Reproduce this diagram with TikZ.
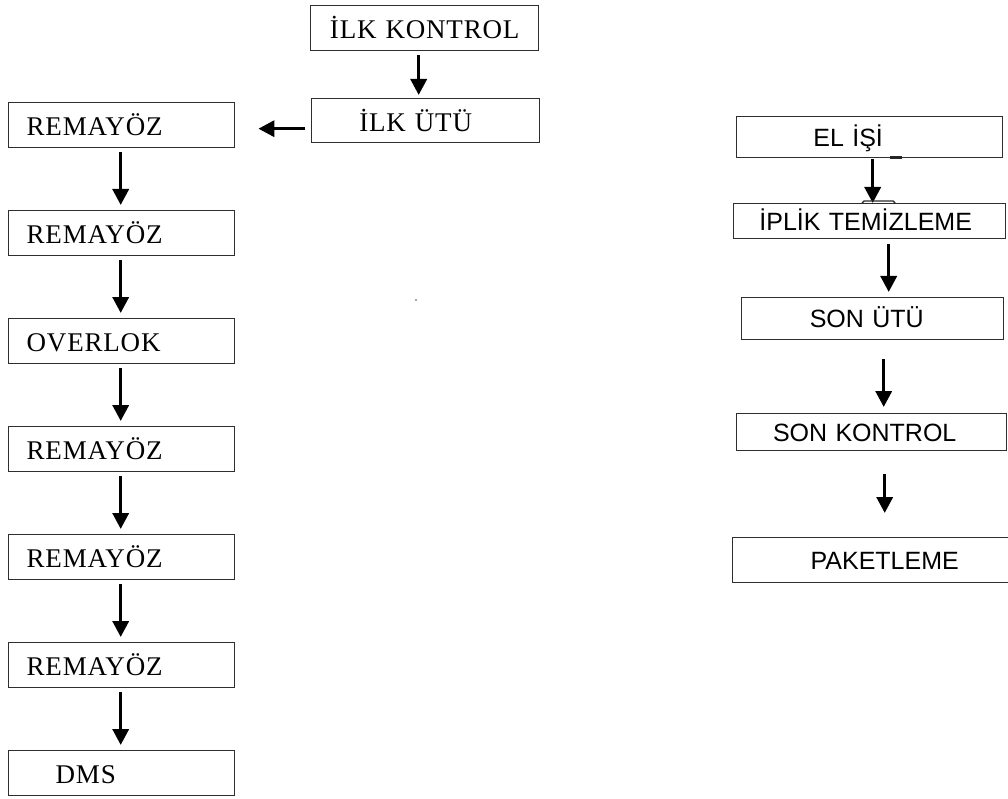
\documentclass[tikz,border=0pt]{standalone}
\usepackage{fontspec}
\setmainfont{Liberation Serif}
\newfontfamily\boxserif[LetterSpace=3]{Liberation Serif}
\newfontfamily\boxsans{Liberation Sans}
\usetikzlibrary{arrows.meta,calc}
\begin{document}
\begin{tikzpicture}[x=1pt,y=-1pt,
  box/.style={draw=black!82, line width=1.4pt, rectangle, inner xsep=0pt, inner ysep=0pt, anchor=north west},
  sbox/.style={box, font=\boxserif\fontsize{27}{30}\selectfont, text height=21pt, text depth=0pt},
  lbox/.style={sbox, align=left, inner xsep=18pt, text width=190pt, minimum height=45pt},
  cbox/.style={sbox, align=center},
  abox/.style={box, font=\boxsans\fontsize{25}{28}\selectfont, align=center, text height=18pt, text depth=0pt},
  arr/.style={line width=3.5pt, -{Triangle[width=16pt,length=16pt]}},
  artifact/.style={draw=black!82, line width=1.4pt},
]
\fill[white] (0,0) rectangle (1008,799);
\useasboundingbox (0,0) rectangle (1008,799);

% top boxes
\node[cbox, text width=228pt, minimum height=45pt] (k1) at (310,5) {İLK KONTROL};
\node[cbox, text width=228pt, minimum height=44pt] (u1) at (311,98) {\hspace*{-20pt}İLK ÜTÜ};

% left column
\node[lbox] (r1) at (8,102) {REMAYÖZ};
\node[lbox] (r2) at (8,210) {REMAYÖZ};
\node[lbox] (ov) at (8,318) {OVERLOK};
\node[lbox] (r3) at (8,426) {REMAYÖZ};
\node[lbox] (r4) at (8,534) {REMAYÖZ};
\node[lbox] (r5) at (8,642) {REMAYÖZ};
\node[lbox] (dm) at (8,750) {\hspace*{29pt}DMS};

% right column
\node[abox, text width=266pt, minimum height=41pt] (el) at (736,116) {\hspace*{-43pt}EL İŞİ};
\node[abox, text width=272pt, minimum height=35pt] (ip) at (733,203) {\hspace*{-8pt}İPLİK TEMİZLEME};
\node[abox, text width=262pt, minimum height=42pt] (su) at (741,297) {\hspace*{-12pt}SON ÜTÜ};
\node[abox, text width=270pt, minimum height=37pt] (sk) at (736,413) {\hspace*{-14pt}SON KONTROL};
\node[abox, text width=280pt, minimum height=45pt] (pk) at (732,537) {\hspace*{24pt}PAKETLEME};

% arrows: top
\draw[arr] ($(k1.south)+(-6,4)$) -- ($(k1.south |- u1.north)+(-6,-3)$);
\draw[arr] ($(u1.west)+(-6,8)$) -- ($(r1.east)+(23,3.5)$);

% arrows: left column
\foreach \a/\b in {r1/r2, r2/ov, ov/r3, r3/r4, r4/r5, r5/dm}{
  \draw[arr] ($(\a.south)+(-1,4)$) -- ($(\a.south |- \b.north)+(-1,-5)$);
}

% arrows: right column
\draw[arr] ($(el.south)+(3,1)$) -- ($(el.south |- ip.north)+(3,0)$);
\draw[arr] ($(ip.south)+(19,5)$) -- ($(ip.south |- su.north)+(19,-5)$);
\draw[arr] ($(su.south)+(11,19)$) -- ($(su.south |- sk.north)+(11,-6)$);
\draw[arr] ($(sk.south)+(13,23)$) -- ($(sk.south |- pk.north)+(13,-24)$);

% small drawing artefacts of the original
\draw[line width=2.5pt, black!85] ($(el.south west)+(154,-1)$) -- ++(12,0);
\draw[artifact] ($(ip.north west)+(129,0)$) -- ++(2,-2) -- ++(29,0) -- ++(2,2);
\fill[black!70] (416,300) circle (0.9pt);
\end{tikzpicture}
\end{document}
